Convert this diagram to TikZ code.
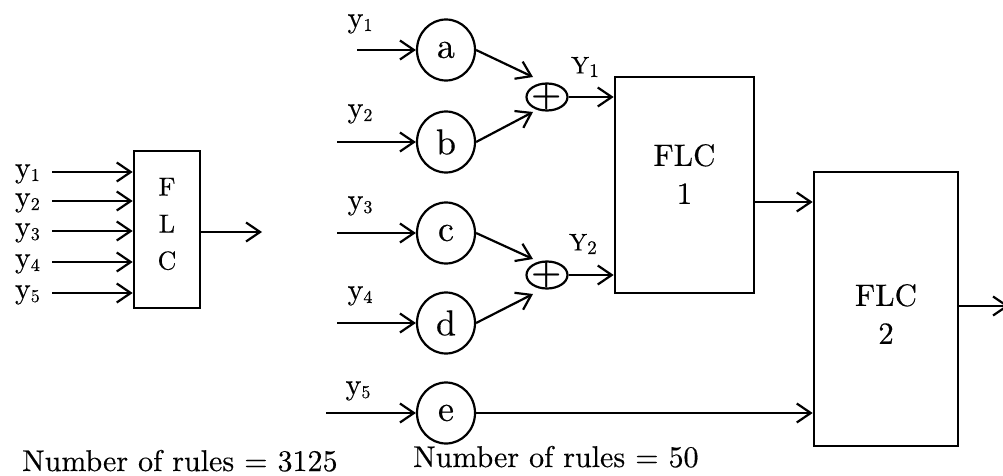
\documentclass[tikz,border=0pt]{standalone}
\usepackage{fontspec}
\setmainfont{lmroman10}[Extension=.otf, UprightFont=*-regular, BoldFont=*-bold,
  ItalicFont=*-italic, BoldItalicFont=*-bolditalic,
  UprightFeatures={FakeBold=0.35}]
\usetikzlibrary{arrows.meta,shapes.geometric}

% lowered, reduced index digit
\newcommand{\sbs}[1]{\raisebox{-0.12em}{\scalebox{0.6}{#1}}}
\newcommand{\sbY}[1]{\raisebox{-0.15em}{\scalebox{0.8}{#1}}}

\tikzset{
  wire/.style={line width=2.2pt, -{Straight Barb[length=14pt,width=19pt]}},
  blockbox/.style={draw, line width=2.6pt, rectangle, inner sep=0pt},
  unit/.style={draw, line width=2.2pt, ellipse, inner sep=0pt,
               minimum width=58pt, minimum height=61pt,
               font=\fontsize{36}{36}\selectfont},
  adder/.style={draw, line width=2.2pt, ellipse, inner sep=0pt,
               minimum width=41pt, minimum height=27pt},
  plussign/.style={inner sep=0pt, font=\fontsize{34}{34}\selectfont\bfseries},
  inlabel/.style={inner sep=0pt, font=\fontsize{30}{30}\selectfont},
  sumlabel/.style={inner sep=0pt, font=\fontsize{24}{24}\selectfont},
  blocktext/.style={inner sep=0pt, align=center, font=\fontsize{31}{38}\selectfont},
  smallblocktext/.style={inner sep=0pt, align=center, font=\fontsize{26}{37}\selectfont},
  note/.style={inner sep=0pt, anchor=base west, font=\fontsize{30}{32}\selectfont},
}

\begin{document}
\begin{tikzpicture}[x=1pt,y=-1pt]
\useasboundingbox (0,0) rectangle (1003,476);

% ---- single controller with five inputs ----
\node[blockbox, minimum width=66pt, minimum height=157pt] (flc0) at (167,229.5) {};
\node[smallblocktext] (flc0txt) at (167,224) {F\\L\\C};
\foreach \i/\yy in {1/172,2/201,3/231,4/262,5/293}{
  \node[inlabel, anchor=east] (l\i) at (40,\yy+2) {y\sbs{\i}};
  \coordinate (s\i) at (52,\yy);
  \draw[wire] (s\i) -- (s\i -| flc0.west);
}
\coordinate (out0) at (262,232);
\draw[wire] (flc0.east |- out0) -- (out0);

% ---- hierarchical structure ----
\node[unit] (a) at (446,50)  {a};
\node[unit] (b) at (446,142) {b};
\node[unit] (c) at (446,233) {c};
\node[unit] (d) at (446,323) {d};
\node[unit] (e) at (446,413) {e};

\node[inlabel] (ya) at (360,24)  {y\sbs{1}};
\node[inlabel] (yb) at (360,114) {y\sbs{2}};
\node[inlabel] (yc) at (360,206) {y\sbs{3}};
\node[inlabel] (yd) at (360,296) {y\sbs{4}};
\node[inlabel] (ye) at (358,391) {y\sbs{5}};

\coordinate (ia) at (357,50);
\coordinate (ib) at (337,142);
\coordinate (ic) at (337,233);
\coordinate (id) at (337,323);
\coordinate (ie) at (326,413);
\foreach \n in {a,b,c,d,e}{
  \draw[wire] (i\n) -- (\n.west);
}

\node[adder] (p1) at (547,97)  {};
\node[adder] (p2) at (547,275) {};
\node[plussign] (p1s) at (547,97)  {+};
\node[plussign] (p2s) at (547,275) {+};

\coordinate (ta) at (533,77);
\coordinate (tb) at (533,112);
\coordinate (tc) at (533,259);
\coordinate (td) at (533,294);
\draw[wire] (a.east) -- (ta);
\draw[wire] (b.east) -- (tb);
\draw[wire] (c.east) -- (tc);
\draw[wire] (d.east) -- (td);

\node[blockbox, minimum width=139pt, minimum height=216pt] (fc1) at (684.5,185) {};
\node[blocktext] (fc1txt) at (684.5,174) {FLC\\1};
\node[blockbox, minimum width=144pt, minimum height=274pt] (fc2) at (886,309) {};
\node[blocktext] (fc2txt) at (886,314) {FLC\\2};

\node[sumlabel] (Y1) at (585,67)  {Y\sbY{1}};
\node[sumlabel] (Y2) at (583,244) {Y\sbY{2}};
\draw[wire] (p1.east) -- (p1.east -| fc1.west);
\draw[wire] (p2.east) -- (p2.east -| fc1.west);

\coordinate (m12) at (754,202);
\draw[wire] (m12) -- (m12 -| fc2.west);
\draw[wire] (e.east) -- (e.east -| fc2.west);
\coordinate (out2) at (1009,306);
\draw[wire] (fc2.east |- out2) -- (out2);

% ---- rule counts ----
\node[note] (n1) at (22,471) {Number of rules = 3125};
\node[note] (n2) at (413,467) {Number of rules = 50};
\end{tikzpicture}
\end{document}
